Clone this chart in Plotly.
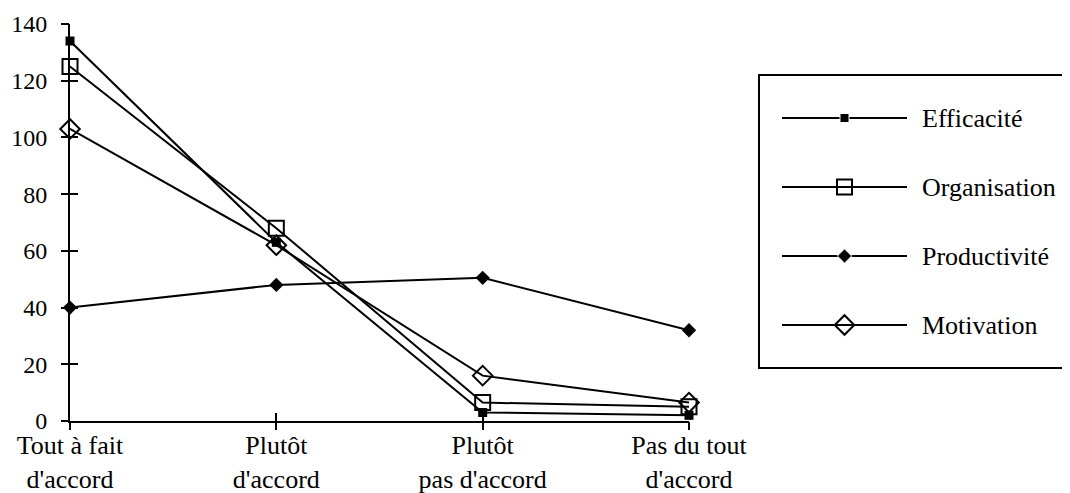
import plotly.graph_objects as go

categories = ["Tout à fait<br>d'accord", "Plutôt<br>d'accord",
              "Plutôt<br>pas d'accord", "Pas du tout<br>d'accord"]
series_names = ["Efficacité", "Organisation", "Productivité", "Motivation"]
efficacite = [134, 63, 3, 2]
organisation = [125, 68, 6.5, 5]
productivite = [40, 48, 50.5, 32]
motivation = [103, 62, 16, 6.5]
y_ticks = [0, 20, 40, 60, 80, 100, 120, 140]

values = [efficacite, organisation, productivite, motivation]
markers = [
    dict(symbol="square", size=9, color="black"),
    dict(symbol="square-open", size=15, color="black", line=dict(width=2)),
    dict(symbol="diamond", size=11, color="black"),
    dict(symbol="diamond-open", size=15, color="black", line=dict(width=2)),
]

# page body adds an 8px margin, so the figure is a bit smaller than the window
OFF = 8
W, H = 1070 - OFF, 493 - OFF
FONT = "Liberation Serif"


def xp(p):
    return (p - OFF) / W


def yp(p):
    return 1 - (p - OFF) / H


fig = go.Figure()

for name, vals, mk in zip(series_names, values, markers):
    fig.add_trace(go.Scatter(x=categories, y=vals, name=name, mode="lines+markers",
                             line=dict(color="black", width=2), marker=mk,
                             cliponaxis=False, showlegend=False))

# empty trace so the overlay axes (outside half of the crossing ticks) get drawn
fig.add_trace(go.Scatter(x=[], y=[], xaxis="x2", yaxis="y2", showlegend=False,
                         hoverinfo="skip"))

# custom legend: long line with a marker in the middle
for name, mk in zip(series_names, markers):
    fig.add_trace(go.Scatter(x=[0, 1, 2], y=[name] * 3, mode="lines+markers",
                             xaxis="x3", yaxis="y3",
                             line=dict(color="black", width=2),
                             marker=dict(mk, size=[0, mk["size"], 0], opacity=1),
                             cliponaxis=False, showlegend=False))
    fig.add_annotation(x=2, y=name, xref="x3", yref="y3", text=name,
                       xanchor="left", xshift=13, showarrow=False,
                       font=dict(family=FONT, size=26, color="black"))

xd = [xp(70), xp(689)]
yd = [yp(421), yp(24)]
tick_style = dict(ticklen=8, tickwidth=2, tickcolor="black", showgrid=False,
                  zeroline=False, automargin=False)

fig.update_layout(
    template="none",
    width=W, height=H,
    margin=dict(l=0, r=0, t=0, b=0),
    plot_bgcolor="white", paper_bgcolor="white",
    font=dict(family=FONT, size=26, color="black"),
    xaxis=dict(domain=xd, type="category", categoryarray=categories, range=[0, 3],
               showline=True, linecolor="black", linewidth=2, ticks="inside",
               tickfont=dict(size=26), anchor="y", **tick_style),
    yaxis=dict(domain=yd, range=[0, 140], tickvals=y_ticks,
               showline=True, linecolor="black", linewidth=2, ticks="inside",
               tickfont=dict(size=24), ticklabelstandoff=16, anchor="x",
               **tick_style),
    xaxis2=dict(domain=xd, overlaying="x", anchor="y", range=[0, 3],
                tickvals=[0, 1, 2, 3], showticklabels=False, ticks="outside",
                showline=False, **tick_style),
    yaxis2=dict(domain=yd, overlaying="y", anchor="x", range=[0, 140],
                tickvals=y_ticks, showticklabels=False, ticks="outside",
                showline=False, **tick_style),
    xaxis3=dict(domain=[xp(782), xp(907)], range=[0, 2], visible=False,
                anchor="y3", automargin=False),
    yaxis3=dict(domain=[yp(359.5), yp(83.5)], type="category",
                categoryarray=series_names, range=[3.5, -0.5], visible=False,
                anchor="x3", automargin=False),
    shapes=[dict(type="rect", xref="paper", yref="paper",
                 x0=xp(759), x1=xp(1068), y0=yp(368), y1=yp(75),
                 line=dict(color="black", width=2))],
)

fig.write_html("out.html")
